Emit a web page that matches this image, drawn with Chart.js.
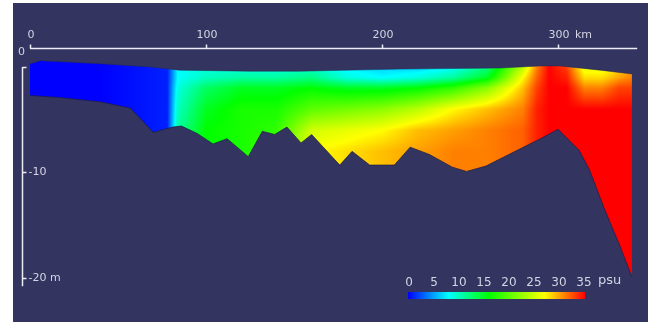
<!DOCTYPE html>
<html>
<head>
<meta charset="utf-8">
<script src="https://cdn.jsdelivr.net/npm/chart.js@4/dist/chart.umd.min.js"></script>
<style>
  html, body { margin: 0; padding: 0; background: #ffffff; }
  #wrap { position: absolute; left: 13px; top: 3px; width: 635px; height: 319px; background: #33345f; }
</style>
</head>
<body>
<div id="wrap"><canvas id="section" width="635" height="319"></canvas></div>
<script>
// distance (km) of the profile stations and depth levels (m)
const stationKm = [0, 40, 78, 84, 100, 120, 140, 160, 180, 200, 220, 240, 260, 280, 288, 295, 305, 315, 325, 335, 342];
const depthLevels = [0, -1, -2, -4, -6, -8, -10, -14, -20];

// salinity (psu), one row per depth level, one value per station
const salinity = [
  [0, 0, 1,  8,  9,  9,  9, 9.5, 7.5, 6.5, 6.5, 8, 12, 24, 31, 35, 33, 26, 26, 28, 30],
  [0, 0, 1,  8, 10, 11, 11, 12,   9,   8,   9, 11, 15, 27, 32, 35, 34, 28, 28, 30, 31],
  [0, 0, 1,  9, 13, 15, 15, 16,  15,  15,  16, 18, 22, 29, 33, 35, 35, 31, 31, 33, 33],
  [0, 0, 1, 10, 15, 17, 17, 20,  21,  22,  24, 27, 29, 31, 34, 35, 35, 35, 35, 35, 35],
  [0, 0, 1, 11, 16, 17, 18, 25,  26,  27,  29, 30, 31, 32, 34, 35, 35, 35, 35, 35, 35],
  [0, 0, 1, 11, 16, 17, 19, 27,  28,  29,  30, 31, 31, 32, 34, 35, 35, 35, 35, 35, 35],
  [0, 0, 1, 11, 16, 17, 19, 27,  28,  29,  30, 31, 31, 32, 34, 35, 35, 35, 35, 35, 35],
  [0, 0, 1, 11, 16, 17, 19, 27,  28,  29,  30, 31, 31, 32, 34, 35, 35, 35, 35, 35, 35],
  [0, 0, 1, 11, 16, 17, 19, 27,  28,  29,  30, 31, 31, 32, 34, 35, 35, 35, 35, 35, 35]
];

// water surface and bottom outline
const surfaceKm = [0, 6, 40, 68, 85, 125, 153, 210, 267, 290, 301, 324, 342];
const surfaceDepth = [0.3, 0.6, 0.3, 0.0, -0.3, -0.4, -0.4, -0.2, -0.1, 0.1, 0.1, -0.3, -0.66];

const bottomKm = [0, 17, 40, 57, 70, 81, 86, 95, 104, 112, 124, 132, 139, 146, 154, 160, 176, 183, 193, 207, 216, 227, 240, 248, 259, 278, 290, 300, 312, 318, 326, 335, 342];
const bottomDepth = [-2.7, -2.9, -3.3, -3.9, -6.2, -5.7, -5.6, -6.3, -7.3, -6.8, -8.5, -6.1, -6.4, -5.7, -7.2, -6.4, -9.3, -8.0, -9.3, -9.3, -7.6, -8.3, -9.5, -9.9, -9.4, -7.8, -6.8, -5.9, -7.9, -9.8, -13.3, -16.9, -19.9];

// axis ticks
const kmTicks = [0, 100, 200, 300];
const depthTicks = [0, -10, -20];
const colorTicks = [0, 5, 10, 15, 20, 25, 30, 35];

const colorStops = [
  [0, [0, 0, 255]],
  [8, [0, 255, 255]],
  [16, [0, 255, 0]],
  [27, [255, 255, 0]],
  [31, [255, 128, 0]],
  [35, [255, 0, 0]]
];

const textColor = '#d4d4e4';
const lineColor = '#ececf4';

function colorFor(v) {
  if (v <= colorStops[0][0]) return colorStops[0][1];
  for (let i = 1; i < colorStops.length; i++) {
    if (v <= colorStops[i][0]) {
      const [v0, c0] = colorStops[i - 1];
      const [v1, c1] = colorStops[i];
      const t = (v - v0) / (v1 - v0);
      return [0, 1, 2].map(k => Math.round(c0[k] + (c1[k] - c0[k]) * t));
    }
  }
  return colorStops[colorStops.length - 1][1];
}

function bracket(arr, v, descending) {
  const n = arr.length;
  if (!descending) {
    if (v <= arr[0]) return [0, 0];
    if (v >= arr[n - 1]) return [n - 2, 1];
    for (let i = 0; i < n - 1; i++) {
      if (v <= arr[i + 1]) return [i, (v - arr[i]) / (arr[i + 1] - arr[i])];
    }
  } else {
    if (v >= arr[0]) return [0, 0];
    if (v <= arr[n - 1]) return [n - 2, 1];
    for (let i = 0; i < n - 1; i++) {
      if (v >= arr[i + 1]) return [i, (arr[i] - v) / (arr[i] - arr[i + 1])];
    }
  }
  return [n - 2, 1];
}

function salinityAt(km, d) {
  const [i, tx] = bracket(stationKm, km, false);
  const [j, ty] = bracket(depthLevels, d, true);
  const a = salinity[j][i], b = salinity[j][i + 1];
  const c = salinity[j + 1][i], e = salinity[j + 1][i + 1];
  const top = a + (b - a) * tx;
  const bot = c + (e - c) * tx;
  return top + (bot - top) * ty;
}

const fieldPlugin = {
  id: 'field',
  beforeDatasetsDraw(chart) {
    const xs = chart.scales.x, ys = chart.scales.y, ctx = chart.ctx;
    const x0 = Math.floor(xs.getPixelForValue(stationKm[0]));
    const x1 = Math.ceil(xs.getPixelForValue(stationKm[stationKm.length - 1]));
    const y0 = Math.floor(ys.getPixelForValue(Math.max(...surfaceDepth)));
    const y1 = Math.ceil(ys.getPixelForValue(Math.min(...bottomDepth)));
    const w = x1 - x0 + 1, h = y1 - y0 + 1;
    const off = document.createElement('canvas');
    off.width = w; off.height = h;
    const octx = off.getContext('2d');
    const img = octx.createImageData(w, h);
    for (let py = 0; py < h; py++) {
      const d = ys.getValueForPixel(y0 + py + 0.5);
      for (let px = 0; px < w; px++) {
        const km = xs.getValueForPixel(x0 + px + 0.5);
        const c = colorFor(salinityAt(km, d));
        const k = (py * w + px) * 4;
        img.data[k] = c[0]; img.data[k + 1] = c[1]; img.data[k + 2] = c[2]; img.data[k + 3] = 255;
      }
    }
    octx.putImageData(img, 0, 0);

    ctx.save();
    ctx.beginPath();
    surfaceKm.forEach((k, i) => {
      const px = xs.getPixelForValue(k), py = ys.getPixelForValue(surfaceDepth[i]);
      if (i === 0) ctx.moveTo(px, py); else ctx.lineTo(px, py);
    });
    for (let i = bottomKm.length - 1; i >= 0; i--) {
      ctx.lineTo(xs.getPixelForValue(bottomKm[i]), ys.getPixelForValue(bottomDepth[i]));
    }
    ctx.closePath();
    ctx.clip();
    ctx.drawImage(off, x0, y0);
    ctx.restore();
  }
};

const axesPlugin = {
  id: 'axes',
  afterDraw(chart) {
    const xs = chart.scales.x, ys = chart.scales.y, ctx = chart.ctx;
    ctx.save();
    ctx.strokeStyle = lineColor;
    ctx.fillStyle = textColor;
    ctx.lineWidth = 1.5;
    ctx.font = '11px "DejaVu Sans"';

    // distance axis along the top
    const ty = Math.round(chart.chartArea.top) + 0.5;
    ctx.beginPath();
    ctx.moveTo(xs.getPixelForValue(0), ty);
    ctx.lineTo(xs.getPixelForValue(xs.max), ty);
    kmTicks.forEach(k => {
      const px = Math.round(xs.getPixelForValue(k)) + 0.5;
      ctx.moveTo(px, ty);
      ctx.lineTo(px, ty - 4);
    });
    ctx.stroke();
    ctx.textAlign = 'center';
    ctx.textBaseline = 'middle';
    kmTicks.forEach(k => {
      ctx.fillText(String(k), xs.getPixelForValue(k) + 1, ty - 13);
    });
    ctx.textAlign = 'left';
    ctx.fillText('km', xs.getPixelForValue(kmTicks[kmTicks.length - 1]) + 17, ty - 13);

    // depth axis on the left
    const ax = Math.round(xs.getPixelForValue(-4.5)) + 0.5;
    ctx.beginPath();
    ctx.moveTo(ax, ys.getPixelForValue(0));
    ctx.lineTo(ax, ys.getPixelForValue(-20.8));
    depthTicks.forEach(d => {
      const py = Math.round(ys.getPixelForValue(d)) + 0.5;
      ctx.moveTo(ax, py);
      ctx.lineTo(ax + 4, py);
    });
    ctx.stroke();
    depthTicks.forEach((d, i) => {
      const py = ys.getPixelForValue(d);
      if (d === 0) {
        ctx.textAlign = 'center';
        ctx.fillText('0', ax - 1, py - 15);
      } else {
        ctx.textAlign = 'left';
        const label = String(d) + (i === depthTicks.length - 1 ? ' m' : '');
        ctx.fillText(label, ax + 6, py);
      }
    });

    // colour bar
    const bx = 395, bw = 177, by = 289, bh = 7;
    const grad = ctx.createLinearGradient(bx, 0, bx + bw, 0);
    colorStops.forEach(([v, c]) => grad.addColorStop(v / 35, 'rgb(' + c.join(',') + ')'));
    ctx.fillStyle = grad;
    ctx.fillRect(bx, by, bw, bh);
    ctx.fillStyle = textColor;
    ctx.textAlign = 'center';
    ctx.font = '12px "DejaVu Sans"';
    colorTicks.forEach(v => {
      ctx.fillText(String(v), bx + 1 + v / 35 * (bw - 2), by - 9);
    });
    ctx.textAlign = 'left';
    ctx.font = '13px "DejaVu Sans"';
    ctx.fillText('psu', 585, by - 11);
    ctx.restore();
  }
};

new Chart(document.getElementById('section'), {
  type: 'line',
  data: {
    datasets: [
      {
        label: 'Bottom',
        data: bottomKm.map((k, i) => ({ x: k, y: bottomDepth[i] })),
        borderColor: 'rgba(28, 28, 72, 0.7)',
        borderWidth: 1,
        pointRadius: 0,
        fill: false
      },
      {
        label: 'Surface',
        data: surfaceKm.map((k, i) => ({ x: k, y: surfaceDepth[i] })),
        borderColor: 'rgba(40, 40, 90, 0.5)',
        borderWidth: 1,
        pointRadius: 0,
        fill: false
      }
    ]
  },
  options: {
    responsive: false,
    animation: false,
    events: [],
    layout: { padding: { left: 17, right: 10.8, top: 45, bottom: 23 } },
    scales: {
      x: { type: 'linear', min: 0, max: 345, display: false },
      y: { type: 'linear', min: -22, max: 1.8, display: false }
    },
    plugins: {
      legend: { display: false },
      tooltip: { enabled: false }
    }
  },
  plugins: [fieldPlugin, axesPlugin]
});
</script>
</body>
</html>
